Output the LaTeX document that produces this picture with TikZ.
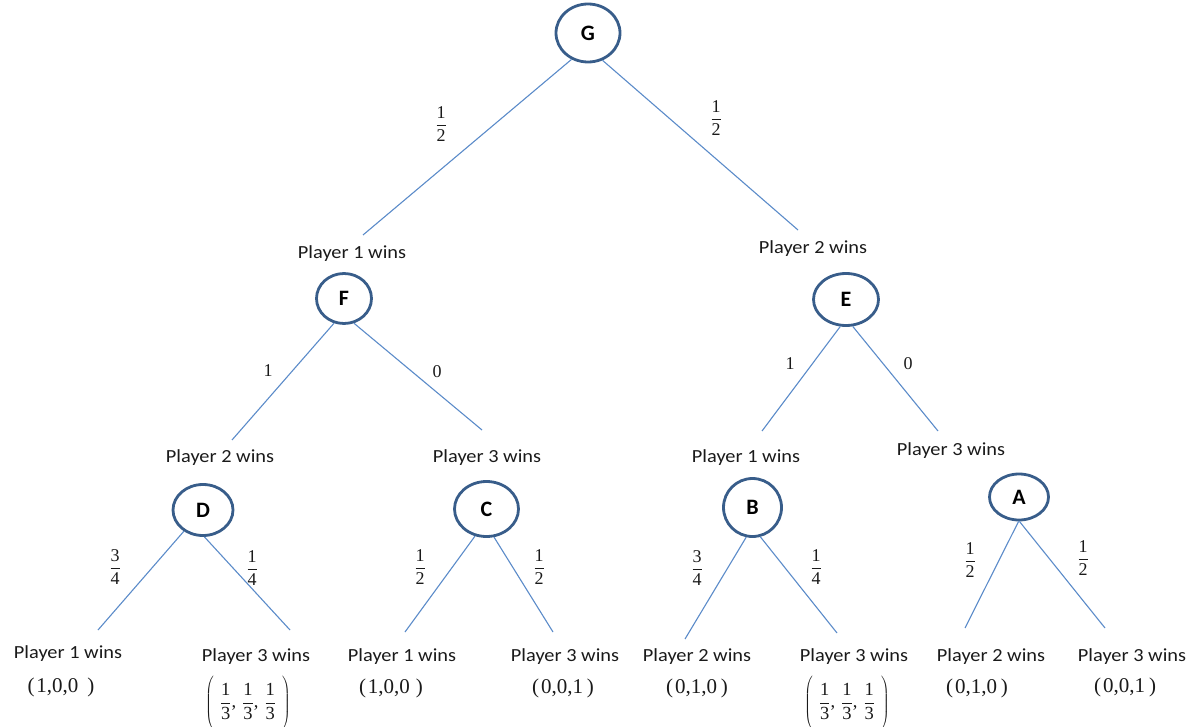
\documentclass[tikz,border=0pt]{standalone}
\usepackage{fontspec}
\usepackage{graphicx}
\setmainfont{Liberation Serif}
\newfontfamily\calib{Carlito}
\usetikzlibrary{shapes.geometric}
\definecolor{circ}{HTML}{385D8A}
\definecolor{lineblue}{HTML}{5B8BC9}
\definecolor{txt}{HTML}{1A1A1A}
\newcommand\fr[2]{$\displaystyle\frac{\mbox{#1}}{\mbox{#2}}$}
\newcommand\frm[2]{\displaystyle\frac{\mbox{#1}}{\mbox{#2}}}
\newcommand\pw[1]{\scalebox{1.1}[1]{Player #1 wins}}
\newcommand\third{$\left(\vrule height 24pt depth 24pt width 0pt\hspace{6pt}\frm13\mbox{,}\hspace{6pt}\frm13\mbox{,}\hspace{6pt}\frm13\hspace{6pt}\right)$}
\tikzset{
  st/.style={ellipse, draw=circ, line width=2.8pt, inner sep=0pt,
    font=\calib\bfseries\fontsize{22}{24}\selectfont},
  edgeline/.style={draw=lineblue, line width=1.1pt},
  pl/.style={font=\calib\fontsize{18.5}{22}\selectfont, text=txt, inner sep=0pt},
  pr/.style={font=\fontsize{18}{21}\selectfont, text=txt, inner sep=0pt},
  pay/.style={font=\fontsize{21}{24}\selectfont, text=txt, inner sep=0pt},
  payfr/.style={font=\fontsize{18.5}{22}\selectfont, text=txt, inner sep=0pt}
}
\begin{document}
\begin{tikzpicture}[x=1pt,y=-1pt]
\useasboundingbox (0,0) rectangle (1204,727);
% state nodes
\node[st, minimum width=64pt, minimum height=58pt] (G) at (588,33) {G};
\node[st, minimum width=55pt, minimum height=50pt] (F) at (344,298.5) {F};
\node[st, minimum width=65pt, minimum height=52pt] (E) at (846,299.5) {E};
\node[st, minimum width=60pt, minimum height=51pt] (D) at (203,510) {D};
\node[st, minimum width=64pt, minimum height=55pt] (C) at (486.5,509) {C};
\node[st, minimum width=58pt, minimum height=58pt] (B) at (752.5,507.5) {B};
\node[st, minimum width=59pt, minimum height=46pt] (A) at (1019,497) {A};
% edge ends
\coordinate (eGF) at (363,235);
\coordinate (eGE) at (798,230);
\coordinate (eFD) at (232,440);
\coordinate (eFC) at (482,430);
\coordinate (eEB) at (762,431);
\coordinate (eEA) at (938,431);
\coordinate (eD1) at (98,630);
\coordinate (eD3) at (290,630);
\coordinate (eC1) at (405,632);
\coordinate (eC3) at (553,632);
\coordinate (eB2) at (685,639);
\coordinate (eB3) at (837,633);
\coordinate (eA2) at (965,628);
\coordinate (eA3) at (1105,628);
% edges
\draw[edgeline] (G.-122) -- (eGF);
\draw[edgeline] (G.-62) -- (eGE);
\draw[edgeline] (F.-112) -- (eFD);
\draw[edgeline] (F.-68) -- (eFC);
\draw[edgeline] (E.-102) -- (eEB);
\draw[edgeline] (E.-76) -- (eEA);
\draw[edgeline] (D.-132) -- (eD1);
\draw[edgeline] (D.-87) -- (eD3);
\draw[edgeline] (C.-113) -- (eC1);
\draw[edgeline] (C.-75) -- (eC3);
\draw[edgeline] (B.-102) -- (eB2);
\draw[edgeline] (B.-75) -- (eB3);
\draw[edgeline] (A.-91) -- (eA2);
\draw[edgeline] (A.-89) -- (eA3);
% probabilities
\node[pr] (pGF) at (441,124) {\fr12};
\node[pr] (pGE) at (716,118) {\fr12};
\node[pr] (pFD) at (268,371) {1};
\node[pr] (pFC) at (437,372) {0};
\node[pr] (pEB) at (790,364) {1};
\node[pr] (pEA) at (908,364) {0};
\node[pr] (pD1) at (115,567) {\fr34};
\node[pr] (pD3) at (252,568) {\fr14};
\node[pr] (pC1) at (420,567) {\fr12};
\node[pr] (pC3) at (539,567) {\fr12};
\node[pr] (pB2) at (697,568) {\fr34};
\node[pr] (pB3) at (816,567) {\fr14};
\node[pr] (pA1) at (970,560) {\fr12};
\node[pr] (pA2) at (1083,558) {\fr12};
% outcome labels
\node[pl] (lF) at (352,254) {\pw1};
\node[pl] (lE) at (813,249) {\pw2};
\node[pl] (lD) at (220,458) {\pw2};
\node[pl] (lC) at (487,458) {\pw3};
\node[pl] (lB) at (746,458) {\pw1};
\node[pl] (lA) at (951,451) {\pw3};
\node[pl] (lD1) at (68,654) {\pw1};
\node[pl] (lD3) at (256,657) {\pw3};
\node[pl] (lC1) at (402,657) {\pw1};
\node[pl] (lC3) at (565,657) {\pw3};
\node[pl] (lB2) at (697,657) {\pw2};
\node[pl] (lB3) at (854,657) {\pw3};
\node[pl] (lA2) at (991,657) {\pw2};
\node[pl] (lA3) at (1132,657) {\pw3};
% payoffs
\node[pay] (vD1) at (61,687) {(\hspace{2pt}1,0,0\hspace{9pt})};
\node[payfr] (vD3) at (248,704) {\third};
\node[pay] (vC1) at (391,688) {(\hspace{2pt}1,0,0\hspace{6pt})};
\node[pay] (vC3) at (563,688) {(\hspace{2pt}0,0,1\hspace{4pt})};
\node[pay] (vB2) at (697,688) {(\hspace{2pt}0,1,0\hspace{4pt})};
\node[payfr] (vB3) at (847,704) {\third};
\node[pay] (vA2) at (977,688) {(\hspace{2pt}0,1,0\hspace{4pt})};
\node[pay] (vA3) at (1125,687) {(\hspace{2pt}0,0,1\hspace{4pt})};
\end{tikzpicture}
\end{document}
